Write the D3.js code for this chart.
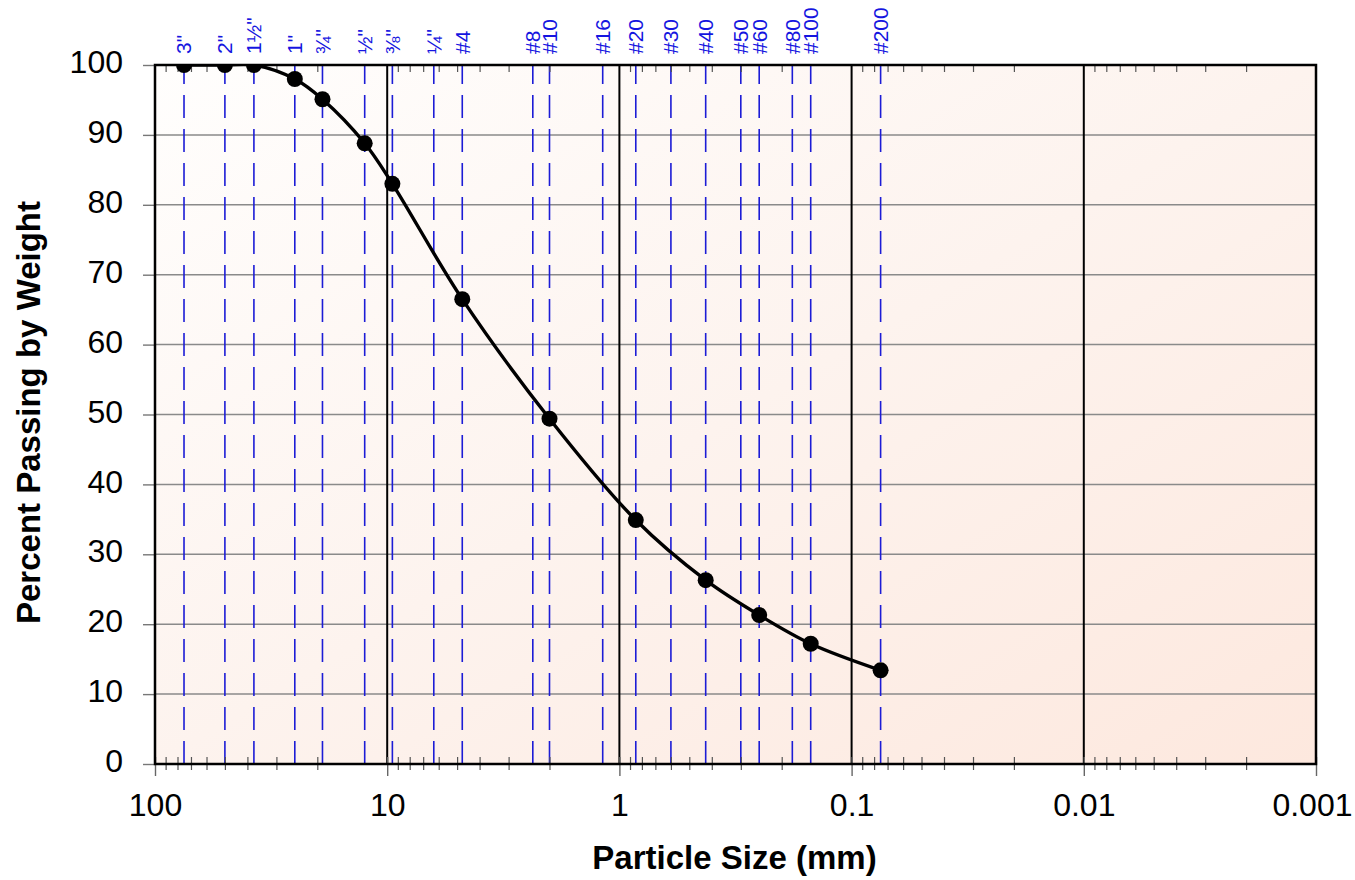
<!DOCTYPE html>
<html>
<head>
<meta charset="utf-8">
<script src="https://cdn.jsdelivr.net/npm/d3@7"></script>
<style>
  body { margin: 0; background: #fff; }
  text { font-family: "Liberation Sans", Arial, sans-serif; }
</style>
</head>
<body>
<div id="wrapper"></div>
<script>
// Peneiras: nome e abertura (mm)
const sieveLabels = ['3"', '2"', '1½"', '1"', '¾"', '½"', '⅜"', '¼"', '#4', '#8', '#10', '#16', '#20', '#30', '#40', '#50', '#60', '#80', '#100', '#200']
const sieveSizes = [75, 50, 37.5, 25, 19, 12.5, 9.5, 6.3, 4.75, 2.36, 2.0, 1.18, 0.85, 0.6, 0.425, 0.3, 0.25, 0.18, 0.15, 0.075]

// Amostra ensaiada
const sampleSizes = [75, 50, 37.5, 25, 19, 12.5, 9.5, 4.75, 2.0, 0.85, 0.425, 0.25, 0.15, 0.075]
const percentPassing = [100, 100, 100, 98, 95.1, 88.8, 83, 66.5, 49.4, 34.9, 26.3, 21.3, 17.2, 13.4]

// Eixos
const xTicks = [100, 10, 1, 0.1, 0.01, 0.001]
const xTickLabels = ["100", "10", "1", "0.1", "0.01", "0.001"]
const yTicks = [0, 10, 20, 30, 40, 50, 60, 70, 80, 90, 100]

function drawGradation() {
    const dataset = sampleSizes.map((s, i) => ({ size: s, pass: percentPassing[i] }))
    const xAccessor = d => d.size
    const yAccessor = d => d.pass

    let dimensions = {
        width: 1355,
        height: 880,
        margin: { top: 65, right: 39, bottom: 116, left: 155 },
    }
    dimensions.boundedWidth = dimensions.width - dimensions.margin.left - dimensions.margin.right
    dimensions.boundedHeight = dimensions.height - dimensions.margin.top - dimensions.margin.bottom

    const svg = d3.select("#wrapper")
        .append("svg")
            .attr("width", dimensions.width)
            .attr("height", dimensions.height)

    const defs = svg.append("defs")
    const grad = defs.append("linearGradient")
        .attr("id", "bg")
        .attr("x1", 0).attr("y1", 0).attr("x2", 1).attr("y2", 1)
    grad.append("stop").attr("offset", 0).attr("stop-color", "#fffefd")
    grad.append("stop").attr("offset", 0.5).attr("stop-color", "#fdf3ee")
    grad.append("stop").attr("offset", 1).attr("stop-color", "#fde8de")

    defs.append("clipPath").attr("id", "plotClip")
        .append("rect")
            .attr("width", dimensions.boundedWidth)
            .attr("height", dimensions.boundedHeight)

    const bounds = svg.append("g")
        .attr("transform", `translate(${dimensions.margin.left},${dimensions.margin.top})`)

    // Escalas (eixo x invertido: grãos maiores à esquerda)
    const xScale = d3.scaleLog()
        .domain([100, 0.001])
        .range([0, dimensions.boundedWidth])
    const yScale = d3.scaleLinear()
        .domain([0, 100])
        .range([dimensions.boundedHeight, 0])

    bounds.append("rect")
        .attr("width", dimensions.boundedWidth)
        .attr("height", dimensions.boundedHeight)
        .attr("fill", "url(#bg)")

    // Linhas de grade horizontais
    bounds.append("g").selectAll("line")
        .data(yTicks.slice(1, -1))
        .join("line")
            .attr("x1", 0)
            .attr("x2", dimensions.boundedWidth)
            .attr("y1", d => yScale(d))
            .attr("y2", d => yScale(d))
            .attr("stroke", "#8a8a8a")
            .attr("stroke-width", 1.5)

    // Linhas das peneiras (tracejadas)
    bounds.append("g").selectAll("line")
        .data(sieveSizes)
        .join("line")
            .attr("x1", d => xScale(d))
            .attr("x2", d => xScale(d))
            .attr("y1", yScale(0))
            .attr("y2", yScale(100))
            .attr("stroke", "#1c1cd6")
            .attr("stroke-width", 1.6)
            .attr("stroke-dasharray", "23,11")

    // Linhas das décadas
    bounds.append("g").selectAll("line")
        .data(xTicks.slice(1, -1))
        .join("line")
            .attr("x1", d => xScale(d))
            .attr("x2", d => xScale(d))
            .attr("y1", 0)
            .attr("y2", dimensions.boundedHeight)
            .attr("stroke", "#000")
            .attr("stroke-width", 2)

    // Marcas menores (escala log)
    const minorTicks = xScale.ticks().filter(t => !xTicks.some(v => Math.abs(v - t) < 1e-12))

    const bottomMinor = d3.axisBottom(xScale).tickValues(minorTicks).tickSize(13).tickFormat("")
    bounds.append("g")
        .attr("transform", `translate(0,${dimensions.boundedHeight - 7})`)
        .call(bottomMinor)
        .call(g => g.select(".domain").remove())
        .call(g => g.selectAll(".tick line").attr("stroke", "#555").attr("stroke-width", 1.2))

    const topMinor = d3.axisBottom(xScale).tickValues(minorTicks).tickSize(7).tickFormat("")
    bounds.append("g")
        .call(topMinor)
        .call(g => g.select(".domain").remove())
        .call(g => g.selectAll(".tick line").attr("stroke", "#555").attr("stroke-width", 1.2))

    const xAxisGenerator = d3.axisBottom(xScale)
        .tickValues(xTicks)
        .tickSize(19)
        .tickPadding(17)
        .tickFormat((d, i) => xTickLabels[i])
    bounds.append("g")
        .attr("transform", `translate(0,${dimensions.boundedHeight - 7})`)
        .call(xAxisGenerator)
        .call(g => g.select(".domain").remove())
        .call(g => g.selectAll(".tick line").attr("stroke", "#666").attr("stroke-width", 1.4))
        .call(g => g.selectAll(".tick text")
            .attr("font-size", 32)
            .attr("fill", "#000")
            .attr("font-family", '"Liberation Sans", Arial, sans-serif'))
        // o último rótulo é empurrado para dentro, como no original
        .call(g => g.selectAll(".tick:last-of-type text")
            .attr("text-anchor", "end")
            .attr("x", 36))

    const yAxisGenerator = d3.axisLeft(yScale)
        .tickValues(yTicks)
        .tickSize(12)
        .tickPadding(20)
    bounds.append("g")
        .call(yAxisGenerator)
        .call(g => g.select(".domain").remove())
        .call(g => g.selectAll(".tick line").attr("stroke", "#777").attr("stroke-width", 1.4))
        .call(g => g.selectAll(".tick text")
            .attr("font-size", 32)
            .attr("dy", "0.24em")
            .attr("fill", "#000")
            .attr("font-family", '"Liberation Sans", Arial, sans-serif'))

    // Curva granulométrica
    const lineGenerator = d3.line()
        .x(d => xScale(xAccessor(d)))
        .y(d => yScale(yAccessor(d)))
        .curve(d3.curveCatmullRom.alpha(0.5))

    const plot = bounds.append("g").attr("clip-path", "url(#plotClip)")
    plot.append("path")
        .attr("d", lineGenerator(dataset))
        .attr("fill", "none")
        .attr("stroke", "#000")
        .attr("stroke-width", 3.4)

    plot.append("g").selectAll("circle")
        .data(dataset)
        .join("circle")
            .attr("cx", d => xScale(xAccessor(d)))
            .attr("cy", d => yScale(yAccessor(d)))
            .attr("r", 8)
            .attr("fill", "#000")

    // Borda da área do gráfico
    bounds.append("rect")
        .attr("width", dimensions.boundedWidth)
        .attr("height", dimensions.boundedHeight)
        .attr("fill", "none")
        .attr("stroke", "#000")
        .attr("stroke-width", 2.5)

    // Nomes das peneiras no topo
    bounds.append("g").selectAll("text")
        .data(sieveSizes)
        .join("text")
            .attr("transform", d => `translate(${xScale(d)},-11) rotate(-90)`)
            .attr("dy", "0.35em")
            .attr("font-size", 21)
            .attr("fill", "#1515e0")
            .text((d, i) => sieveLabels[i])

    // Títulos dos eixos
    svg.append("text")
        .attr("x", dimensions.margin.left + dimensions.boundedWidth / 2 - 1)
        .attr("y", 869)
        .attr("text-anchor", "middle")
        .attr("font-size", 33)
        .attr("font-weight", "bold")
        .text("Particle Size (mm)")

    svg.append("text")
        .attr("transform", `translate(40,${dimensions.margin.top + dimensions.boundedHeight / 2 - 2}) rotate(-90)`)
        .attr("text-anchor", "middle")
        .attr("font-size", 33)
        .attr("font-weight", "bold")
        .text("Percent Passing by Weight")
}

drawGradation()
</script>
</body>
</html>
